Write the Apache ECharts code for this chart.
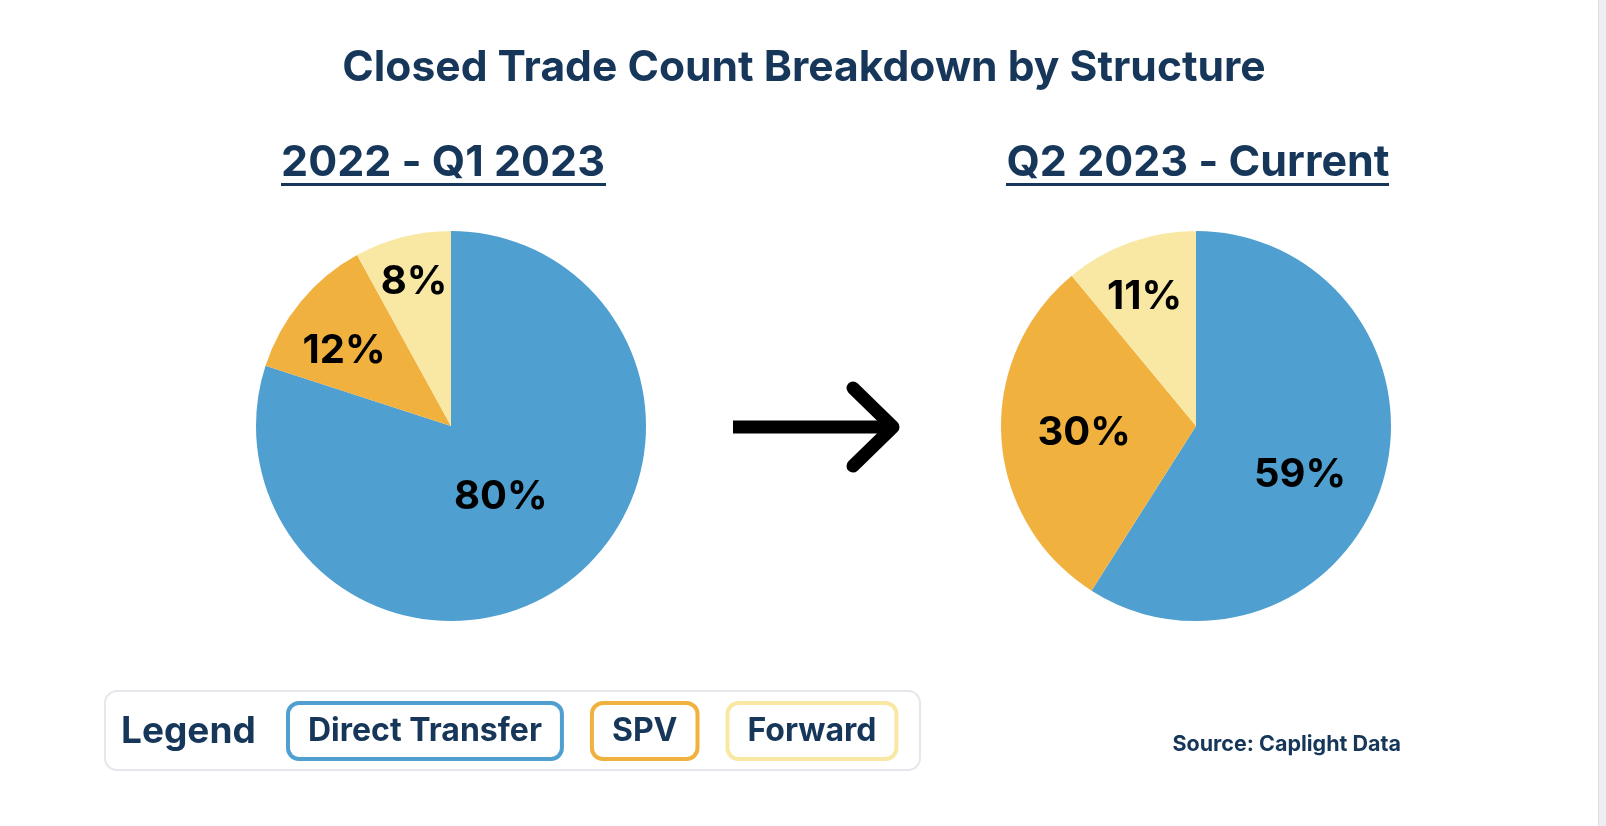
<!DOCTYPE html>
<html>
<head>
<meta charset="utf-8">
<script src="https://cdn.jsdelivr.net/npm/echarts@6/dist/echarts.min.js"></script>
<style>
html,body{margin:0;padding:0;background:#fff;}
#chart{width:1606px;height:826px;}
</style>
</head>
<body>
<div id="chart"></div>
<script>
const categories = ['Direct Transfer', 'SPV', 'Forward'];
const periodNames = ['2022 - Q1 2023', 'Q2 2023 - Current'];
const valuesBefore = [80, 12, 8];
const valuesAfter = [59, 30, 11];
const chartTitle = 'Closed Trade Count Breakdown by Structure';
const sourceText = 'Source: Caplight Data';
const legendTitle = 'Legend';

const colors = ['#4F9FD0', '#F0B13F', '#F9E8A4'];
const navy = '#17375A';
const FONT = 'Inter, "Noto Sans", sans-serif';
const centers = [[451, 426], [1196, 426]];
const R = 195;
// label placement (radius fraction, angle tweak in degrees) — styling only
const labelFactors = [[0.445, 0.67, 0.76], [0.59, 0.575, 0.71]];
const labelAngleTweak = [[1, -4.6, 0], [9, 0, -2]];
const allValues = [valuesBefore, valuesAfter];

function makeData(vals) {
  return categories.map((c, i) => ({ name: c, value: vals[i] }));
}

function labelLayoutFor(si) {
  return function (p) {
    const vals = allValues[si];
    const total = vals.reduce((a, b) => a + b, 0);
    let cum = 0;
    for (let i = 0; i < p.dataIndex; i++) cum += vals[i];
    const mid = (cum + vals[p.dataIndex] / 2) / total * Math.PI * 2
      + labelAngleTweak[si][p.dataIndex] * Math.PI / 180;
    const f = labelFactors[si][p.dataIndex];
    return {
      x: centers[si][0] + f * R * Math.sin(mid),
      y: centers[si][1] - f * R * Math.cos(mid),
      align: 'center',
      verticalAlign: 'middle'
    };
  };
}

function pieSeries(si) {
  return {
    type: 'pie',
    name: periodNames[si],
    center: centers[si],
    radius: [0, R],
    startAngle: 90,
    clockwise: true,
    avoidLabelOverlap: false,
    silent: true,
    itemStyle: { borderWidth: 0 },
    label: {
      show: true,
      position: 'inside',
      formatter: '{c}%',
      color: '#000',
      fontFamily: FONT,
      fontWeight: 700,
      fontSize: 40
    },
    labelLine: { show: false },
    labelLayout: labelLayoutFor(si),
    data: makeData(allValues[si])
  };
}

const chart = echarts.init(document.getElementById('chart'), null, { renderer: 'canvas' });

const option = {
  backgroundColor: '#ffffff',
  color: colors,
  animation: false,
  title: [
    {
      text: chartTitle,
      left: 799, top: 63, textAlign: 'center', textVerticalAlign: 'middle',
      textStyle: { color: navy, fontFamily: FONT, fontWeight: 700, fontSize: 42.6 }
    },
    {
      text: periodNames[0],
      left: 438, top: 158, textAlign: 'center', textVerticalAlign: 'middle',
      textStyle: { color: navy, fontFamily: FONT, fontWeight: 700, fontSize: 43 }
    },
    {
      text: periodNames[1],
      left: 1193, top: 158, textAlign: 'center', textVerticalAlign: 'middle',
      textStyle: { color: navy, fontFamily: FONT, fontWeight: 700, fontSize: 43 }
    }
  ],
  legend: {
    left: 280, top: 696,
    orient: 'horizontal',
    selectedMode: false,
    itemWidth: 0, itemHeight: 0,
    itemGap: 25,
    icon: 'rect',
    textStyle: {
      color: navy, fontFamily: FONT, fontWeight: 700, fontSize: 32,
      borderWidth: 4, borderRadius: 9, padding: [11, 18, 9, 18],
      backgroundColor: '#fff'
    },
    data: categories.map((c, i) => ({
      name: c,
      textStyle: { borderColor: colors[i] }
    }))
  },
  graphic: [
    { type: 'rect', shape: { x: 281, y: 183, width: 325, height: 3 }, style: { fill: navy } },
    { type: 'rect', shape: { x: 1006, y: 183, width: 383, height: 3 }, style: { fill: navy } },
    { type: 'polyline', shape: { points: [[733, 427], [891, 427]] },
      style: { stroke: '#000', lineWidth: 13, fill: null, lineCap: 'butt' } },
    { type: 'polyline', shape: { points: [[853, 388], [893, 427], [853, 466]] },
      style: { stroke: '#000', lineWidth: 13, fill: null, lineCap: 'round', lineJoin: 'round' } },
    { type: 'rect', z: -1, shape: { x: 105, y: 691, width: 815, height: 79, r: 12 },
      style: { fill: '#fff', stroke: '#E4E7EB', lineWidth: 2 } },
    { type: 'text', style: { x: 121, y: 732, text: legendTitle, fill: navy, font: '700 37px ' + FONT, textVerticalAlign: 'middle' } },
    { type: 'text', style: { x: 1401, y: 745, text: sourceText, fill: navy, font: '700 21.5px ' + FONT, textAlign: 'right', textVerticalAlign: 'middle' } },
    { type: 'rect', shape: { x: 1598, y: 0, width: 8, height: 826 }, style: { fill: '#ECEEF1' } },
    { type: 'rect', shape: { x: 1598, y: 0, width: 1, height: 826 }, style: { fill: '#DADDE2' } }
  ],
  series: [pieSeries(0), pieSeries(1)]
};

chart.setOption(option);
</script>
</body>
</html>
